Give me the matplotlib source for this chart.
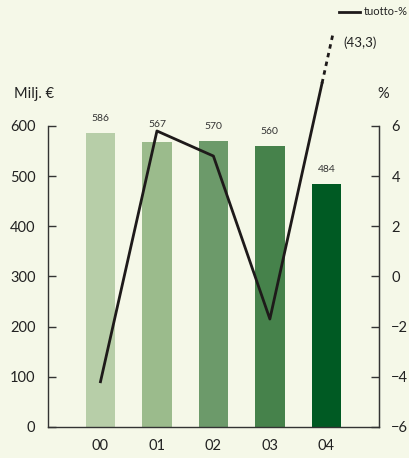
import numpy as np
import matplotlib
matplotlib.use('Agg')
import matplotlib.pyplot as plt

plt.rcParams['font.family'] = ['Lato', 'DejaVu Sans']

years = ['00', '01', '02', '03', '04']
revenue = [586, 567, 570, 560, 484]
returns = [-4.2, 5.8, 4.8, -1.7, 43.3]
bar_colors = ['#b7cea8', '#9bbb8c', '#6c9a6a', '#46824b', '#005a23']

BG = '#f5f8e8'
LINE = '#1e1a1a'
SPINE = '#333333'

# axis break for the off-scale 2004 value
break_solid = 7.7
break_top = 9.7
break_x = 4.12

fig = plt.figure(figsize=(4.10, 4.58), dpi=100, facecolor=BG)
ax = fig.add_axes([0.117, 0.068, 0.807, 0.657])
ax.set_facecolor(BG)
x = np.arange(len(years))

ax.bar(x, revenue, width=0.52, color=bar_colors, zorder=2)
for i, (xi, v) in enumerate(zip(x, revenue)):
    # label of 01 sits higher so the line does not cross it
    off = 10 if i == 1 else 7
    ax.annotate(str(v), (xi, v), xytext=(0, off), textcoords='offset points',
                ha='center', va='bottom', fontsize=7.5, color='#333333')

ax.set_xlim(-0.93, 4.93)
ax.set_ylim(0, 600)
ax.set_yticks(range(0, 601, 100))
ax.set_xticks(x)
ax.set_xticklabels(years)
ax.tick_params(axis='x', length=0, pad=9, labelsize=10.5, colors='#222222')
ax.tick_params(axis='y', direction='in', length=6, width=1, pad=9,
               labelsize=10.5, colors=SPINE, labelcolor='#222222')
ax.spines['top'].set_visible(False)
for s in ['left', 'bottom', 'right']:
    ax.spines[s].set_color(SPINE)
    ax.spines[s].set_linewidth(1)

ax2 = ax.twinx()
ax2.set_ylim(-6, 6)
ax2.set_yticks(range(-6, 7, 2))
ax2.tick_params(axis='y', direction='in', length=6, width=1, pad=9,
                labelsize=10.5, colors=SPINE, labelcolor='#222222')
ax2.spines['top'].set_visible(False)
ax2.spines['right'].set_color(SPINE)
ax2.spines['left'].set_visible(False)
ax2.spines['bottom'].set_visible(False)

# solid part of the line, then dashed where 2004 runs off the scale
slope = (break_top - returns[3]) / (break_x - x[3])
x_solid = x[3] + (break_solid - returns[3]) / slope
ax2.plot(list(x[:4]) + [x_solid], returns[:4] + [break_solid],
         color=LINE, lw=2, clip_on=False, zorder=3)
ax2.plot([x_solid, break_x], [break_solid, break_top], color=LINE, lw=2,
         ls=(0, (1.6, 1.6)), clip_on=False, zorder=3)

fig.text(0.837, 0.906, '(%s)' % str(returns[4]).replace('.', ','),
         fontsize=9.5, color='#222222', va='center', ha='left')

fig.text(0.034, 0.795, 'Milj. €', fontsize=10.5, color='#222222', va='center')
fig.text(0.92, 0.795, '%', fontsize=10.5, color='#222222', va='center')

# legend
fig.add_artist(plt.Line2D([0.826, 0.878], [0.974, 0.974], color=LINE, lw=2))
fig.text(0.888, 0.974, 'tuotto-%', fontsize=8, color='#222222', va='center')

fig.savefig('out.png', dpi=100, facecolor=BG)
